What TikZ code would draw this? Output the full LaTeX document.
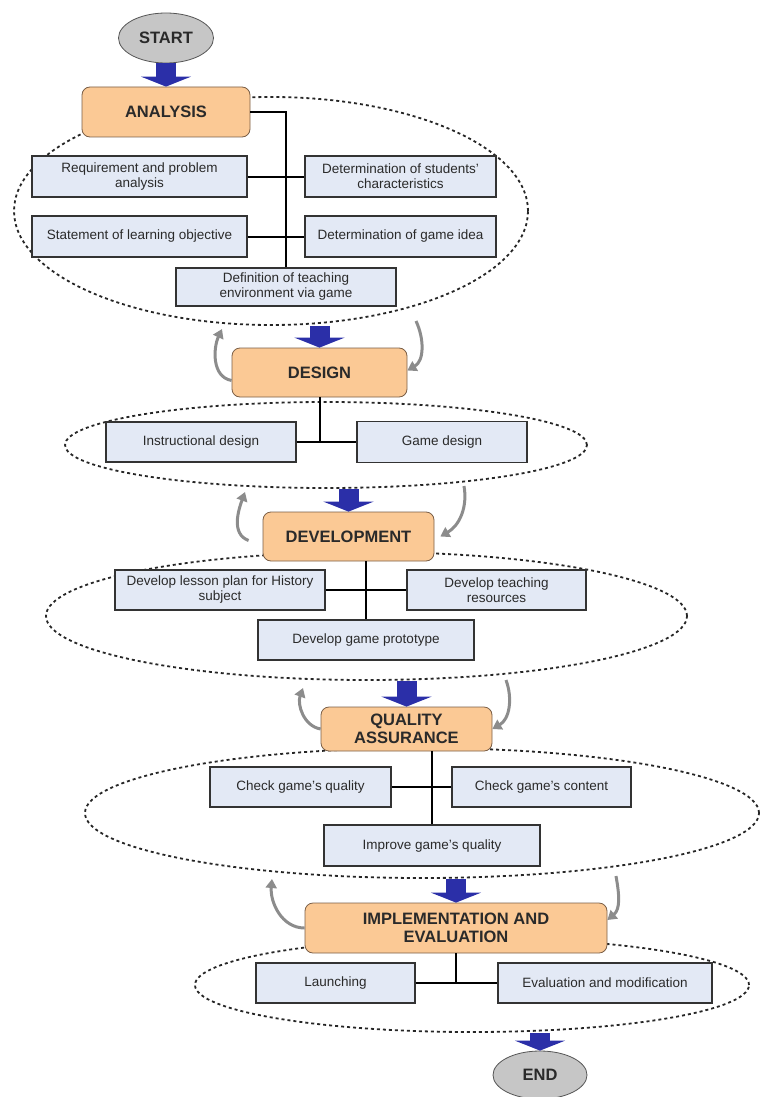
\documentclass[tikz,border=0pt]{standalone}
\usepackage{fontspec}
\setmainfont{Liberation Sans}
\usetikzlibrary{arrows.meta, shapes.geometric}
\definecolor{phasefill}{HTML}{FBC995}
\definecolor{phaseline}{HTML}{7A5E46}
\definecolor{taskfill}{HTML}{E3E9F5}
\definecolor{taskline}{HTML}{333333}
\definecolor{termfill}{HTML}{C6C6C6}
\definecolor{termline}{HTML}{555555}
\definecolor{flowblue}{HTML}{2B2FA8}
\definecolor{loopgray}{HTML}{8C8C8C}
\definecolor{inktext}{HTML}{2A2A2A}

\newcommand{\phasefont}{\fontsize{16.5}{18.5}\selectfont\bfseries}
\newcommand{\taskfont}{\fontsize{13.5}{15}\selectfont}

\begin{document}
\begin{tikzpicture}[x=1pt, y=-1pt,
  dims/.style 2 args={minimum width=#1, minimum height=#2},
  phase/.style={fill=phasefill, draw=phaseline, line width=0.8pt, rounded corners=8pt,
                inner sep=0pt, align=center, font=\phasefont, text=inktext},
  task/.style={fill=taskfill, draw=taskline, line width=1.2pt, inner sep=0pt,
               align=center, font=\taskfont, text=inktext},
  terminal/.style={ellipse, fill=termfill, draw=termline, line width=0.8pt,
                   inner sep=0pt, font=\phasefont, text=inktext},
  cluster/.style={ellipse, draw=black!85, line width=1.8pt, dash pattern=on 3pt off 3pt, inner sep=0pt},
  tree/.style={line width=2pt, black},
  flow/.style={line width=20pt, flowblue, -{Triangle[width=50pt, length=10pt]}},
  loopback/.style={line width=3pt, loopgray, -{Triangle[width=11pt, length=9pt]}}]
  \useasboundingbox (0,0) rectangle (768,1097);

  % dashed groups
  \node[cluster, dims={514pt}{228pt}] (anaE) at (271,211) {};
  \node[cluster, dims={522pt}{86pt}]  (desE) at (326,445) {};
  \node[cluster, dims={641pt}{128pt}] (devE) at (366.5,616) {};
  \node[cluster, dims={674pt}{130pt}] (quaE) at (422,813) {};
  \node[cluster, dims={554pt}{94pt}]  (impE) at (472,985) {};

  % phases
  \node[terminal, dims={95pt}{50pt}] (start) at (166,38) {START};
  \node[phase, dims={168pt}{50pt}] (analysis) at (166,112) {ANALYSIS};
  \node[phase, dims={175pt}{49pt}] (design) at (319.5,372.5) {DESIGN};
  \node[phase, dims={171pt}{49pt}] (devel) at (348.5,536.5) {DEVELOPMENT};
  \node[phase, dims={171pt}{44pt}] (quality) at (406.5,729) {QUALITY\\ASSURANCE};
  \node[phase, dims={302pt}{50pt}] (impl) at (456,928) {IMPLEMENTATION AND\\EVALUATION};
  \node[terminal, dims={94pt}{48pt}] (finish) at (540,1075) {END};

  % analysis tasks
  \node[task, dims={215pt}{41pt}] (reqbox) at (139.5,176.5) {Requirement and problem\\analysis};
  \node[task, dims={215pt}{41pt}] (stmtbox) at (139.5,236.5) {Statement of learning objective};
  \node[task, dims={191pt}{41pt}] (studbox) at (400.5,176.5) {Determination of students'\\characteristics};
  \node[task, dims={191pt}{41pt}] (ideabox) at (400.5,236.5) {Determination of game idea};
  \node[task, dims={220pt}{38pt}] (envbox) at (286,287) {Definition of teaching\\environment via game};
  \draw[tree] (analysis.east) -| (envbox.north);
  \draw[tree] (reqbox.east) -- (studbox.west);
  \draw[tree] (stmtbox.east) -- (ideabox.west);

  % design tasks
  \node[task, dims={190pt}{40pt}] (instbox) at (201,442) {Instructional design};
  \node[task, dims={170pt}{41pt}] (gamebox) at (442,442) {Game design};
  \draw[tree] (design.south) -- (design.south |- instbox.east);
  \draw[tree] (instbox.east) -- (gamebox.west);

  % development tasks
  \node[task, dims={210pt}{40pt}] (lessonbox) at (220,590) {Develop lesson plan for History\\subject};
  \node[task, dims={179pt}{40pt}] (teachbox) at (496.5,590) {Develop teaching\\resources};
  \node[task, dims={216pt}{40pt}] (protobox) at (366,640) {Develop game prototype};
  \draw[tree] (devel.south -| protobox.north) -- (protobox.north);
  \draw[tree] (lessonbox.east) -- (teachbox.west);

  % quality tasks
  \node[task, dims={181pt}{40pt}] (cqbox) at (300.5,787) {Check game's quality};
  \node[task, dims={179pt}{40pt}] (ccbox) at (541.5,787) {Check game's content};
  \node[task, dims={216pt}{41pt}] (impbox) at (432,845.5) {Improve game's quality};
  \draw[tree] (quality.south -| impbox.north) -- (impbox.north);
  \draw[tree] (cqbox.east) -- (ccbox.west);

  % implementation tasks
  \node[task, dims={159pt}{40pt}] (launchbox) at (335.5,983) {Launching};
  \node[task, dims={214pt}{40pt}] (evalbox) at (605,983) {Evaluation and modification};
  \draw[tree] (impl.south) -- (impl.south |- launchbox.east);
  \draw[tree] (launchbox.east) -- (evalbox.west);

  % main flow
  \draw[flow] (start.south) -- (analysis.north);
  \draw[flow] (design.north |- anaE.south) -- (design.north);
  \draw[flow] (devel.north |- desE.south) -- (devel.north);
  \draw[flow] (quality.north |- devE.south) -- (quality.north);
  \draw[flow] (impl.north |- quaE.south) -- (impl.north);
  \draw[flow] (finish.north |- impE.south) -- (finish.north);

  % feedback loops
  \coordinate (dl) at (222,329);
  \coordinate (dr) at (416,321);
  \coordinate (vl) at (245,492);
  \coordinate (vr) at (464,486);
  \coordinate (ql) at (303,688);
  \coordinate (qr) at (506,680);
  \coordinate (il) at (272,879);
  \coordinate (ir) at (616,876);
  \draw[loopback] ([yshift=-8pt]design.west) to[out=170, in=-115] (dl);
  \draw[loopback] (dr) to[out=-65, in=30] ([yshift=2pt]design.east);
  \draw[loopback] ([xshift=-14pt, yshift=-4pt]devel.west) to[out=160, in=-110] (vl);
  \draw[loopback] (vr) to[out=-80, in=30] ([xshift=6pt]devel.east);
  \draw[loopback] (quality.west) to[out=170, in=-110] (ql);
  \draw[loopback] (qr) to[out=-70, in=30] (quality.east);
  \draw[loopback] (impl.west) to[out=180, in=-95] (il);
  \draw[loopback] (ir) to[out=-80, in=40] ([yshift=8pt]impl.east);
\end{tikzpicture}
\end{document}
